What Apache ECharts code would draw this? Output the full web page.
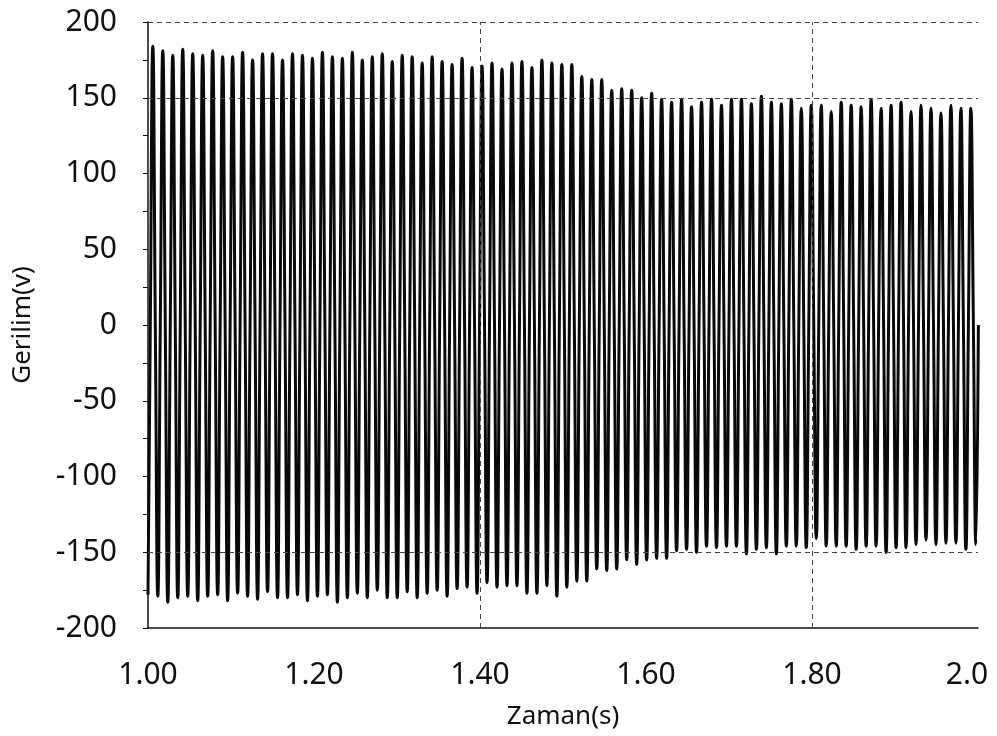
<!DOCTYPE html>
<html>
<head>
<meta charset="utf-8">
<script src="https://cdn.jsdelivr.net/npm/echarts@6/dist/echarts.min.js"></script>
<style>
  html, body { margin: 0; padding: 0; background: #ffffff; }
  #chart { width: 997px; height: 736px; }
</style>
</head>
<body>
<div id="chart"></div>
<script>
// ---- data ----
// positive peak of every cycle (V)
const posPeaks = [
  184,181,178,182,179,178,181,177,177,180,175,179,179,175,179,178,176,180,177,176,
  180,175,177,179,174,178,177,173,177,174,172,176,170,171,173,169,173,174,170,175,
  173,172,172,164,162,162,155,156,155,150,153,149,147,149,144,
  147,149,145,149,149,146,151,147,146,149,143,145,145,141,147,145,144,149,143,145,
  147,141,145,143,140,145,143,143
];
// negative peak of every cycle (V)
const negPeaks = [
  -179,-183,-180,-179,-182,-179,-178,-182,-177,-179,-181,-176,-180,-180,-178,-182,-179,-178,-183,-180,
  -177,-180,-175,-180,-180,-176,-180,-177,-175,-179,-174,-173,-177,-170,-173,-172,-172,-177,-177,-172,
  -179,-173,-169,-169,-161,-162,-161,-155,-158,-155,-154,-154,-149,-148,-150,
  -146,-147,-146,-146,-151,-148,-147,-151,-146,-146,-147,-141,-146,-146,-146,-148,-146,-146,-150,-147,
  -147,-145,-142,-145,-144,-144,-148,-145
];
const startTime = 1.0;        // s, first sample
const startValue = -178;      // V, value at the first sample
const firstPeakTime = 1.0058; // s, time of the first positive peak
const period = 0.01202;       // s, cycle length
const xTickLabels = ['1.00', '1.20', '1.40', '1.60', '1.80', '2.0'];
const hGrid = [150, -150, 200];
const vGrid = [1.4, 1.8];

// ---- build the waveform: peaks and zero crossings ----
const wave = [[startTime, startValue]];
for (let i = 0; i < posPeaks.length; i++) {
  const tp = firstPeakTime + i * period;
  wave.push([tp - period / 4, 0]);
  wave.push([tp, posPeaks[i]]);
  wave.push([tp + period / 4, 0]);
  wave.push([tp + period / 2, negPeaks[i]]);
}
wave.push([firstPeakTime + (posPeaks.length - 1) * period + 3 * period / 4, 0]);

const FONT = 'Noto Sans';
const chart = echarts.init(document.getElementById('chart'), null, { renderer: 'canvas' });
chart.setOption({
  animation: false,
  backgroundColor: '#ffffff',
  grid: { left: 148, right: 19, top: 22, bottom: 108, containLabel: false },
  xAxis: {
    type: 'value',
    min: 1.0, max: 2.0, interval: 0.2,
    name: 'Zaman(s)',
    nameLocation: 'middle',
    nameGap: 76,
    nameTextStyle: { fontFamily: FONT, fontSize: 26, color: '#111' },
    axisLine: { show: true, onZero: false, lineStyle: { color: '#111', width: 1.5 } },
    axisTick: { show: false },
    splitLine: { show: false },
    axisLabel: {
      margin: 32,
      fontFamily: FONT, fontSize: 30, color: '#111',
      formatter: function (v) {
        const idx = Math.round((v - 1.0) / 0.2);
        const s = xTickLabels[idx] || '';
        return idx === xTickLabels.length - 1 ? '{last|' + s + '}' : s;
      },
      rich: { last: { fontFamily: FONT, fontSize: 30, color: '#111', padding: [0, 22, 0, 0] } }
    }
  },
  yAxis: {
    type: 'value',
    min: -200, max: 200, interval: 50,
    name: 'Gerilim(v)',
    nameLocation: 'middle',
    nameGap: 112,
    nameRotate: 90,
    nameTextStyle: { fontFamily: FONT, fontSize: 26, color: '#111' },
    axisLine: { show: true, onZero: false, lineStyle: { color: '#111', width: 1.5 } },
    axisTick: { show: true, length: 5, lineStyle: { color: '#111' } },
    minorTick: { show: true, splitNumber: 2, length: 5, lineStyle: { color: '#111' } },
    splitLine: { show: false },
    axisLabel: { margin: 31, fontFamily: FONT, fontSize: 30, color: '#111' }
  },
  series: [
    {
      type: 'line',
      data: [],
      z: 1,
      silent: true,
      markLine: {
        silent: true,
        symbol: ['none', 'none'],
        label: { show: false },
        lineStyle: { color: '#444', width: 1, type: [5, 4] },
        data: hGrid.map(v => ({ yAxis: v })).concat(vGrid.map(v => ({ xAxis: v })))
      }
    },
    {
      type: 'line',
      data: wave,
      z: 3,
      smooth: 0.5,
      showSymbol: false,
      sampling: 'none',
      lineStyle: { color: '#0a0a0a', width: 3 }
    }
  ]
});
</script>
</body>
</html>
